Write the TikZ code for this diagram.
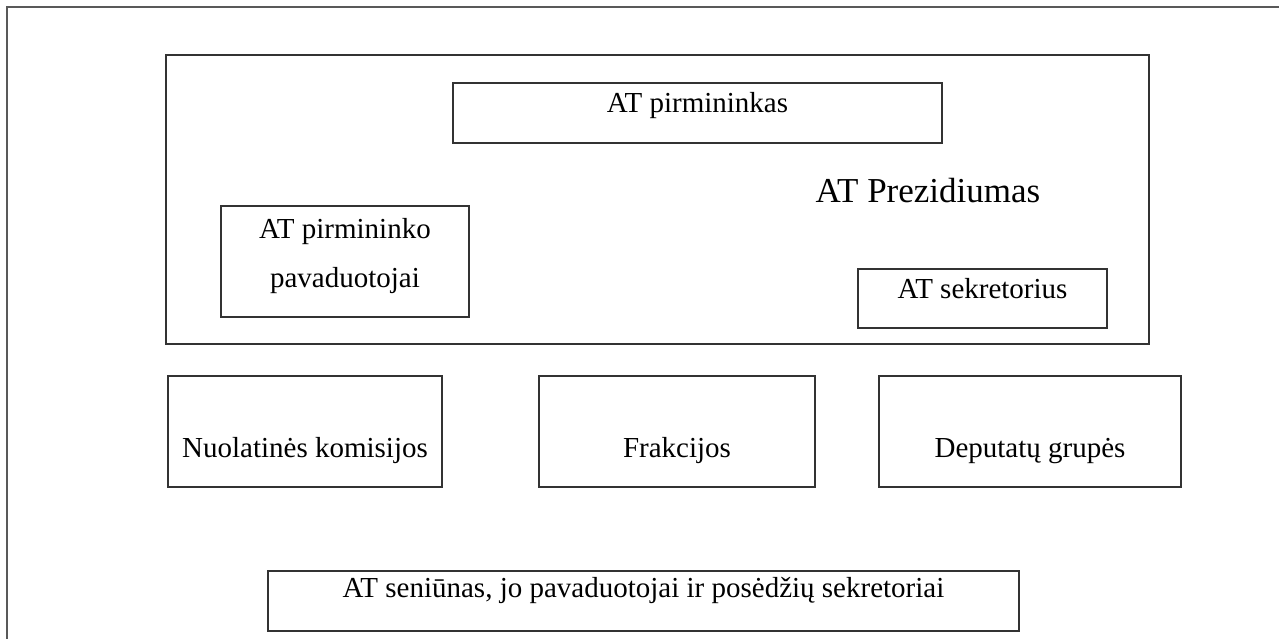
\documentclass[tikz,border=0pt]{standalone}
\usepackage{fontspec}
\setmainfont{Liberation Serif}

\begin{document}
\begin{tikzpicture}[x=1pt, y=-1pt]
	\tikzset{
		org/.style = {draw=black!80, line width=1.5pt, inner sep=0pt, font=\fontsize{29}{49}\selectfont},
		lowrow/.style = {org, minimum height=111pt, text height=81pt, text depth=30pt},
		title/.style = {font=\fontsize{35}{42}\selectfont, anchor=base, inner sep=0pt},
		outerframe/.style = {draw=black!65, line width=2.5pt}
	}
	\useasboundingbox (0,0) rectangle (1279,639);
	\draw[outerframe] (7,650) |- (1290,7);
	\node[org, minimum width=983pt, minimum height=289pt] (prez) at (657.5,199.5) {};
	\node[title] (preztitle) at (928,203) {AT Prezidiumas};
	\node[org, minimum width=489pt, minimum height=60pt, text height=30pt, text depth=30pt] (pirm) at (697.5,113) {AT pirmininkas};
	\node[org, minimum width=248pt, minimum height=111pt, align=center, text height=81pt, text depth=30pt] (pav) at (345,261.5) {AT pirmininko\\pavaduotojai};
	\node[org, minimum width=249pt, minimum height=59pt, text height=29pt, text depth=30pt] (sekr) at (982.5,298.5) {AT sekretorius};
	\node[lowrow, minimum width=274pt] (nuol) at (305,431.5) {Nuolatinės komisijos};
	\node[lowrow, minimum width=276pt] (frak) at (677,431.5) {Frakcijos};
	\node[lowrow, minimum width=302pt] (dep) at (1030,431.5) {Deputatų grupės};
	\node[org, minimum width=751pt, minimum height=60pt, text height=26pt, text depth=34pt] (sen) at (643.5,601) {AT seniūnas, jo pavaduotojai ir posėdžių sekretoriai};
\end{tikzpicture}
\end{document}
